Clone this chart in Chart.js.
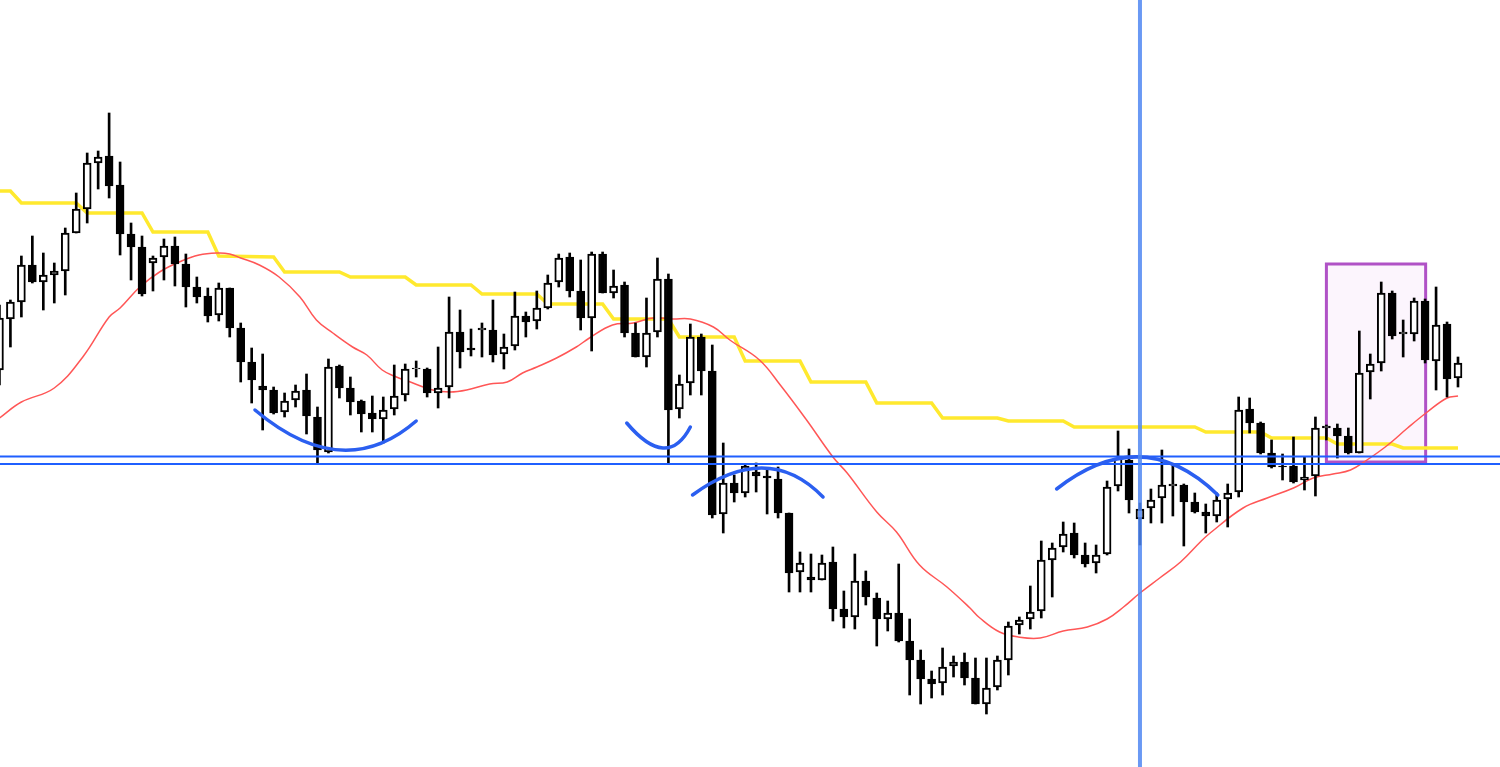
<!DOCTYPE html>
<html>
<head>
<meta charset="utf-8">
<script src="https://cdn.jsdelivr.net/npm/chart.js@4.4.0/dist/chart.umd.min.js"></script>
<style>
  html, body { margin: 0; padding: 0; background: #fff; overflow: hidden; }
  #wrap { width: 1500px; height: 767px; }
</style>
</head>
<body>
<div id="wrap"><canvas id="myChart" width="1500" height="767"></canvas></div>
<script>
// candles (price units, higher = up)
const open = [630,681,698,735,718,725,729,767,791,837, 844,815,766,753,737,743,754,736,713,704,
  685,712,672,638,614,610,588,600,610,583, 548,634,612,599,587,581,591,605,631,631,
  607,613,668,652,670,670,646,654,684,679, 692,718,743,709,682,746,707,715,667,643,
  668,721,591,617,663,629,486,517,507,528, 524,521,487,428,423,420,438,391,383,419,
  402,381,387,359,340,321,317,334,338,322, 296,313,340,375,381,389,440,453,467,445,
  437,446,514,540,481,492,502,514,515,498, 488,484,501,508,591,577,547,534,534,520,
  524,572,572,564,547,628,637,707,666,666, 699,639,676,622];
const close = [682,698,735,718,725,729,767,791,837,843, 814,766,753,706,742,754,736,713,703,684,
  712,672,638,620,610,587,599,609,584,550, 633,612,598,586,581,590,604,631,632,607,
  612,668,648,650,672,645,653,684,678,692, 717,742,709,682,746,707,714,667,643,667,
  721,590,616,663,629,485,517,507,534,524, 522,487,427,437,420,437,391,383,419,403,
  381,387,359,340,321,316,333,338,322,296, 312,340,374,380,388,440,452,466,445,436,
  445,513,542,500,491,500,515,516,498,488, 484,500,507,590,577,547,533,533,518,523,
  572,574,564,547,627,636,707,664,668,699, 640,675,621,637];
const high = [695,700,744,764,747,737,772,807,847,849, 887,838,777,764,744,761,763,746,723,712,
  717,712,677,652,646,613,607,615,626,593, 641,635,623,600,604,603,635,636,639,632,
  653,703,690,671,677,700,666,708,688,709, 725,746,747,740,748,748,730,718,677,702,
  742,726,625,676,666,655,557,525,535,537, 530,533,487,448,446,445,453,409,446,429,
  407,399,436,381,350,329,352,344,347,342, 342,344,378,383,414,459,457,478,477,457,
  455,519,569,551,497,511,550,536,516,507, 496,507,516,603,602,578,560,546,563,543,
  583,575,576,572,669,646,718,709,680,702, 701,713,678,643];
const low = [615,653,683,717,690,697,705,767,777,811, 802,745,720,704,709,720,714,693,697,678,
  679,663,618,597,570,586,583,593,566,537, 547,602,585,568,568,557,585,599,623,603,
  592,602,632,644,643,638,631,650,663,671, 691,713,703,670,649,707,702,663,643,633,
  663,537,582,605,605,482,467,498,503,508, 486,482,408,408,408,420,379,372,371,395,
  354,369,358,305,296,302,305,323,315,296, 286,310,325,366,371,382,403,448,442,433,
  427,445,509,487,455,477,477,484,454,487, 467,478,473,503,567,546,532,520,517,510,
  504,560,542,546,547,601,629,661,643,659, 637,610,603,613];

// yellow stepped level (candle index, price)
const stepIdx = [-1,1,2,7,8,13,14,19,20,25,26,31,32,37,38,43,44,49,50,55,56,61,62,67,68,73,74,79,80,85,86,91,92,97,98,109,110,115,116,121,122,127,128,133];
const stepVal = [809,809,797,797,787,787,768,768,744,743,728,728,723,723,715,715,706,706,696,696,681,681,663,663,639,639,618,618,597,597,582,582,579,579,573,573,568,568,562,562,556,556,552,552];

// red moving average (candle index, price)
const maIdx = [0,2,5,7.6,10,11,12.8,14.6,16.4,18.2,19.9,21,22,23.7,25.5,27.4,28.9,30.4,32.2,33.5,34.9,36.2,37.7,39.5,41.1,42.6,44.7,46.3,47.7,49,50.8,52.6,53.8,55.9,57.8,59.6,61.4,63,65.1,66.6,69.3,71.2,73.6,76,77.3,80,81.8,83.9,86.4,88.5,89.4,91.2,92.9,94.9,97,99.2,101,102.5,104,105.8,107.7,109.5,110.4,113.4,115.6,118,119.8,121.6,123.2,124.7,126.6,128.4,130.2,132,133];
const maVal = [582,598,612,643,683,692,713,728,738,745,747,746,742,735,723,703,680,667,653,645,630,623,617,610,608,610,616,618,627,633,642,653,662,675,677,682,681,681,673,660,640,615,580,543,527,488,468,435,413,392,382,368,363,362,369,373,381,393,407,422,438,458,467,492,502,512,522,526,530,540,555,572,588,602,604];

// drawn objects
const supportLevels = [543.5, 536];
const markerIdx = 104;
const zone = [121, 130.05, 538, 736]; // from idx, to idx, bottom, top
const arcs = [
  [[23.3, 590], [31.0, 550], [38.0, 579]],
  [[57.2, 577], [60.5, 552], [63.0, 573]],
  [[63.2, 505], [69.6, 532], [75.1, 503]],
  [[96.4, 511], [104.0, 543], [111.1, 505]]
];

const idx = open.map((_, i) => i);
const up = i => close[i] >= open[i];

const overlays = {
  id: 'overlays',
  beforeDatasetsDraw(chart) {
    const { ctx, scales: { x, y } } = chart;
    const x0 = x.getPixelForValue(zone[0]), x1 = x.getPixelForValue(zone[1]);
    const y0 = y.getPixelForValue(zone[3]), y1 = y.getPixelForValue(zone[2]);
    ctx.save();
    ctx.fillStyle = '#fcf5fd';
    ctx.fillRect(x0, y0, x1 - x0, y1 - y0);
    ctx.strokeStyle = '#b052c6';
    ctx.lineWidth = 3;
    ctx.strokeRect(x0, y0, x1 - x0, y1 - y0);
    ctx.restore();
  },
  afterDatasetsDraw(chart) {
    const { ctx, chartArea, scales: { x, y } } = chart;
    ctx.save();
    // hand drawn arcs
    ctx.strokeStyle = '#2b5ff0';
    ctx.lineWidth = 3.5;
    ctx.lineCap = 'round';
    arcs.forEach(a => {
      const p = a.map(q => [x.getPixelForValue(q[0]), y.getPixelForValue(q[1])]);
      const cx = 2 * p[1][0] - (p[0][0] + p[2][0]) / 2;
      const cy = 2 * p[1][1] - (p[0][1] + p[2][1]) / 2;
      ctx.beginPath();
      ctx.moveTo(p[0][0], p[0][1]);
      ctx.quadraticCurveTo(cx, cy, p[2][0], p[2][1]);
      ctx.stroke();
    });
    // vertical marker
    const vx = x.getPixelForValue(markerIdx);
    ctx.strokeStyle = 'rgba(80,135,242,0.85)';
    ctx.lineWidth = 4;
    ctx.beginPath();
    ctx.moveTo(vx, chartArea.top);
    ctx.lineTo(vx, chartArea.bottom);
    ctx.stroke();
    ctx.restore();
  }
};

const lineSet = (xs, ys, color, width, order, tension) => ({
  type: 'line',
  data: xs.map((v, i) => ({ x: v, y: ys[i] })),
  borderColor: color,
  borderWidth: width,
  pointRadius: 0,
  tension: tension,
  order: order
});

new Chart(document.getElementById('myChart'), {
  type: 'bar',
  data: {
    datasets: [
      // candle bodies
      {
        data: idx.map(i => ({ x: i, y: [open[i], close[i]] })),
        backgroundColor: ctx => up(ctx.dataIndex) ? '#ffffff' : '#000000',
        borderColor: '#000000',
        borderWidth: 2,
        borderSkipped: false,
        barThickness: 8,
        grouped: false,
        order: 1
      },
      // wicks
      {
        data: idx.map(i => ({ x: i, y: [low[i], high[i]] })),
        backgroundColor: '#000000',
        borderWidth: 0,
        barThickness: 2,
        grouped: false,
        order: 2
      },
      lineSet(stepIdx, stepVal, '#ffe92e', 3.5, 4, 0),
      lineSet(maIdx, maVal, '#ff5656', 1.5, 3, 0.4),
      lineSet([-1, 140], [supportLevels[0], supportLevels[0]], '#1f5fff', 1.8, 0, 0),
      lineSet([-1, 140], [supportLevels[1], supportLevels[1]], '#1f5fff', 1.8, 0, 0)
    ]
  },
  options: {
    responsive: false,
    animation: false,
    devicePixelRatio: 1,
    layout: { padding: 0 },
    plugins: { legend: { display: false }, tooltip: { enabled: false } },
    scales: {
      x: { type: 'linear', min: 0.05, max: 136.83, offset: false, display: false },
      y: { min: 233, max: 1000, display: false }
    }
  },
  plugins: [overlays]
});
</script>
</body>
</html>
